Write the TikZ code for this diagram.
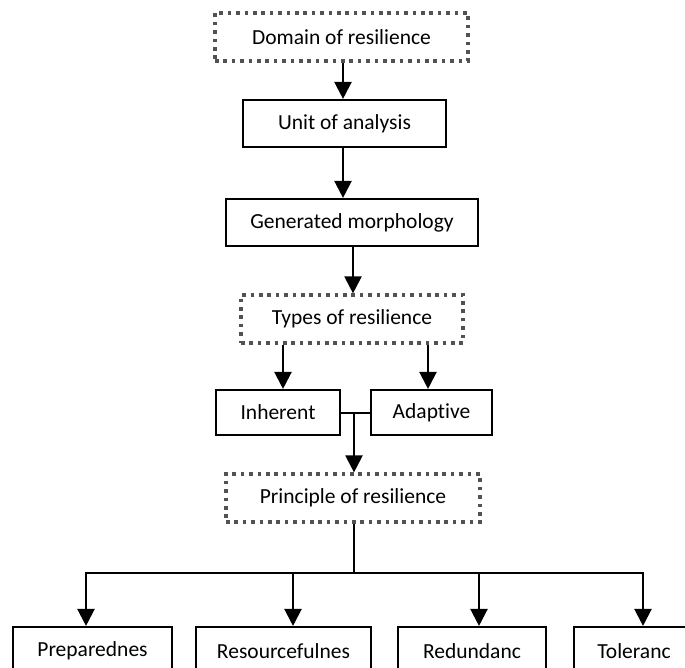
\documentclass[tikz,border=0pt]{standalone}
\usepackage{fontspec}
\setmainfont{Carlito}[Ligatures=NoCommon]
\usetikzlibrary{arrows.meta}
\begin{document}
\begin{tikzpicture}[x=1pt,y=-1pt,
  every node/.style={font=\fontsize{21.5}{25}\selectfont, inner sep=0pt, align=center},
  solidbox/.style={draw=black, line width=2.1pt, rectangle},
  dotbox/.style={draw=black!68, line width=3.2pt, rectangle, dash pattern=on 3.6pt off 4.8pt},
  arr/.style={line width=2.2pt, -{Triangle[width=17pt,length=17pt]}},
  ln/.style={line width=2pt}]
\useasboundingbox (0,0) rectangle (685,668);

% upper chain
\node[dotbox, minimum width=253pt, minimum height=48pt] (dom) at (341.5,37) {Domain of resilience};
\node[solidbox, minimum width=203pt, minimum height=47pt] (unit) at (344.5,123.5) {Unit of analysis};
\node[solidbox, minimum width=252pt, minimum height=47pt] (gen) at (352,222.5) {Generated morphology};
\node[dotbox, minimum width=222pt, minimum height=48pt] (types) at (352,319) {Types of resilience};
\node[solidbox, minimum width=124pt, minimum height=45pt] (inh) at (278,412.5) {Inherent};
\node[solidbox, minimum width=121pt, minimum height=45pt] (ada) at (431.5,412.5) {Adaptive};
\node[dotbox, minimum width=254pt, minimum height=48pt] (prin) at (353,498) {Principle of resilience};

% principles
\node[solidbox, minimum width=159pt, minimum height=48pt] (prep) at (92.5,651) {Preparednes};
\node[solidbox, minimum width=175pt, minimum height=48pt] (res) at (283.5,651) {Resourcefulnes};
\node[solidbox, minimum width=148pt, minimum height=48pt] (red) at (472,651) {Redundanc};
\node[solidbox, minimum width=120pt, minimum height=48pt] (tol) at (634,651) {Toleranc};

% joints
\coordinate (jn) at (354,412.5);
\coordinate (bus) at (354,573);
\coordinate (b1) at (86,573);
\coordinate (b2) at (293,573);
\coordinate (b3) at (479,573);
\coordinate (b4) at (643,573);

\draw[arr] ([xshift=1.5pt]dom.south) -- ([xshift=-1.5pt]unit.north);
\draw[arr] ([xshift=-1.5pt]unit.south) -- ([xshift=-9pt]gen.north);
\draw[arr] ([xshift=1pt]gen.south) -- ([xshift=1pt]types.north);
\draw[arr] ([xshift=-69pt]types.south) -- ([xshift=5pt]inh.north);
\draw[arr] ([xshift=76pt]types.south) -- ([xshift=-3.5pt]ada.north);
\draw[ln] (inh.east) -- (ada.west);
\draw[arr] (jn) -- (jn |- prin.north);
\draw[ln] (prin.south -| bus) -- (bus);
\draw[ln, line cap=rect] (b1) -- (b4);
\draw[arr] (b1) -- (b1 |- prep.north);
\draw[arr] (b2) -- (b2 |- res.north);
\draw[arr] (b3) -- (b3 |- red.north);
\draw[arr] (b4) -- (b4 |- tol.north);
\end{tikzpicture}
\end{document}
